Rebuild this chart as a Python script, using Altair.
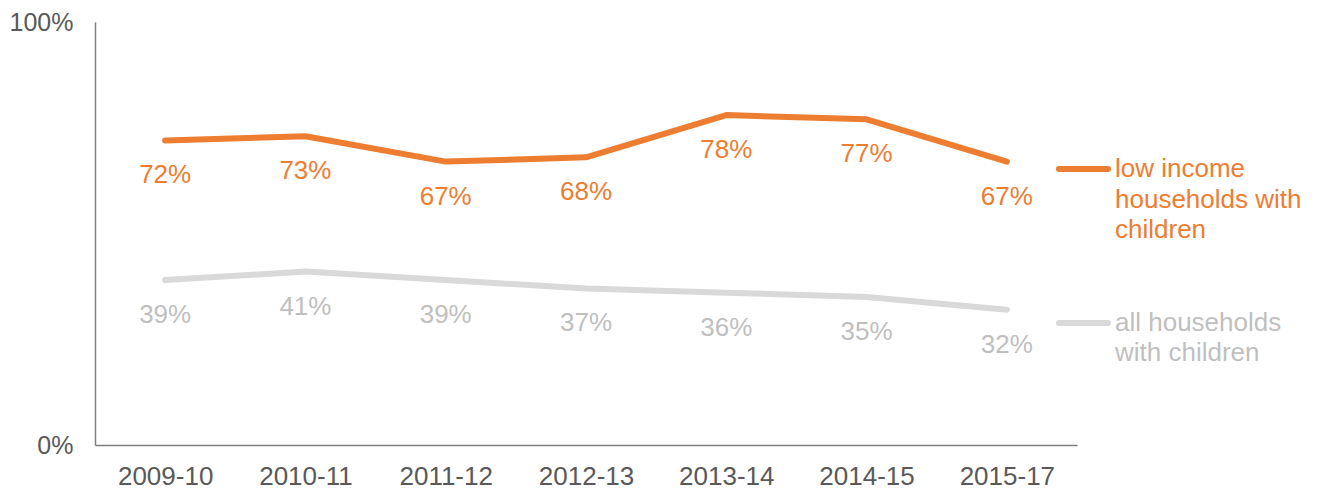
import altair as alt
import pandas as pd

years = ["2009-10", "2010-11", "2011-12", "2012-13", "2013-14", "2014-15", "2015-17"]
low_income = [0.72, 0.73, 0.67, 0.68, 0.78, 0.77, 0.67]
all_households = [0.39, 0.41, 0.39, 0.37, 0.36, 0.35, 0.32]
series_names = ["low income households with children", "all households with children"]
line_colors = ["#ed7d31", "#d9d9d9"]
text_colors = ["#ed7d31", "#bfbfbf"]

rows = []
for y, a, b in zip(years, low_income, all_households):
    rows.append({"year": y, "value": a, "series": series_names[0]})
    rows.append({"year": y, "value": b, "series": series_names[1]})
df = pd.DataFrame(rows)

FONT = "Liberation Sans"

x = alt.X("year:N", sort=years, title=None,
          scale=alt.Scale(paddingInner=0, paddingOuter=0.5),
          axis=alt.Axis(labelAngle=0, ticks=False, labelPadding=18, labelFontSize=26,
                        labelColor="#595959", labelFont=FONT, domainColor="#7f7f7f",
                        domainWidth=1.5, grid=False))
y = alt.Y("value:Q", title=None, scale=alt.Scale(domain=[0, 1]),
          axis=alt.Axis(values=[0, 1], format=".0%", ticks=False, labelPadding=22,
                        labelFontSize=25, labelColor="#595959", labelFont=FONT,
                        domainColor="#7f7f7f", domainWidth=1.5, grid=False))

base = alt.Chart(df)

lines = base.mark_line(strokeWidth=6, strokeCap="round", strokeJoin="round").encode(
    x=x, y=y,
    color=alt.Color("series:N", scale=alt.Scale(domain=series_names, range=line_colors), legend=None),
    detail="series:N",
)

labels = base.mark_text(fontSize=26, font=FONT, dy=35, baseline="middle").encode(
    x=alt.X("year:N", sort=years),
    y=alt.Y("value:Q"),
    text=alt.Text("value:Q", format=".0%"),
    color=alt.Color("series:N", scale=alt.Scale(domain=series_names, range=text_colors), legend=None),
)

leg_df = pd.DataFrame({
    "series": series_names,
    "ly": [147, 301],
})
leg_lines = alt.Chart(leg_df).mark_rule(strokeWidth=6, strokeCap="round").encode(
    x=alt.value(964), x2=alt.value(1013),
    y=alt.Y("ly:Q", scale=None),
    color=alt.Color("series:N", scale=alt.Scale(domain=series_names, range=line_colors), legend=None),
)

leg_text_df = pd.DataFrame({
    "text": ["low income", "households with", "children", "all households", "with children"],
    "series": [series_names[0]] * 3 + [series_names[1]] * 2,
    "ty": [147, 177.5, 208, 301, 331],
})
leg_text = alt.Chart(leg_text_df).mark_text(fontSize=26, font=FONT, align="left", baseline="middle").encode(
    x=alt.value(1020),
    y=alt.Y("ty:Q", scale=None),
    text="text:N",
    color=alt.Color("series:N", scale=alt.Scale(domain=series_names, range=text_colors), legend=None),
)

chart = alt.layer(
    alt.layer(lines, leg_lines),
    alt.layer(labels, leg_text),
).resolve_scale(color="independent").properties(
    width=982, height=423,
    autosize=alt.AutoSizeParams(type="none"),
    padding={"left": 87, "top": 14, "right": 225, "bottom": 44},
    background="white",
).configure_view(strokeWidth=0, stroke="transparent")

chart.save("out.html", embed_options={"renderer": "svg", "actions": False})
